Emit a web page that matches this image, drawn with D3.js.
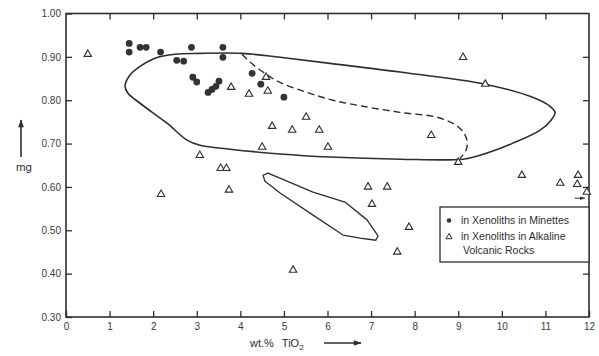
<!DOCTYPE html>
<html>
<head>
<meta charset="utf-8">
<script src="https://cdn.jsdelivr.net/npm/d3@7"></script>
<style>
  body { margin: 0; background: #fff; }
  svg { display: block; font-family: "Liberation Sans", Arial, sans-serif; }
  .tick-label { font-size: 10px; fill: #3a3a3a; }
</style>
</head>
<body>
<div id="chart"></div>
<script>
// 坐标刻度
const xTicks = [0, 1, 2, 3, 4, 5, 6, 7, 8, 9, 10, 11, 12];
const yTicks = [0.30, 0.40, 0.50, 0.60, 0.70, 0.80, 0.90, 1.00];

// in Xenoliths in Minettes (实心圆)
const minetteTi = [1.45, 1.45, 1.70, 1.84, 2.17, 2.54, 2.70, 2.88, 3.60, 3.60, 2.91, 3.00, 3.26, 3.35, 3.44, 3.51, 4.27, 4.47, 5.00];
const minetteMg = [0.931, 0.911, 0.922, 0.922, 0.911, 0.892, 0.890, 0.922, 0.922, 0.899, 0.853, 0.842, 0.818, 0.825, 0.832, 0.844, 0.862, 0.837, 0.807];

// in Xenoliths in Alkaline Volcanic Rocks (空心三角)
const alkalineTi = [0.50, 3.79, 4.20, 4.59, 4.63, 5.51, 4.73, 5.19, 5.81, 4.50, 6.01, 3.07, 3.55, 3.68, 2.18, 3.74,
  6.93, 7.37, 7.02, 7.87, 7.60, 5.21, 9.11, 9.62, 8.38, 9.00, 10.46, 11.34, 11.75, 11.73, 11.95];
const alkalineMg = [0.906, 0.830, 0.814, 0.853, 0.821, 0.761, 0.740, 0.731, 0.731, 0.692, 0.692, 0.673, 0.643, 0.643, 0.583, 0.593,
  0.600, 0.600, 0.560, 0.507, 0.450, 0.408, 0.899, 0.837, 0.719, 0.657, 0.627, 0.609, 0.627, 0.606, 0.588];

// 大包络线 (实线)
const bigLoopTi = [1.354, 1.469, 1.698, 2.042, 2.501, 3.075, 4.039, 4.911, 6.058, 7.664, 9.615, 10.647, 11.106, 11.221,
  11.13, 10.88, 10.257, 9.50, 9.11, 7.664, 6.058, 4.911, 3.763, 3.075, 2.777, 2.318, 1.698, 1.423];
const bigLoopMg = [0.832, 0.858, 0.878, 0.897, 0.906, 0.908, 0.908, 0.899, 0.885, 0.865, 0.837, 0.809, 0.786, 0.772,
  0.754, 0.731, 0.701, 0.673, 0.664, 0.664, 0.669, 0.676, 0.687, 0.696, 0.708, 0.747, 0.793, 0.816];

// 内部虚线
const dashTi = [4.039, 4.222, 4.52, 4.911, 5.53, 6.127, 6.815, 7.664, 8.582, 9.041, 9.20, 9.18, 9.04];
const dashMg = [0.906, 0.888, 0.865, 0.841, 0.818, 0.800, 0.786, 0.772, 0.759, 0.735, 0.708, 0.685, 0.666];

// 小包络线
const smallLoopTi = [4.52, 4.635, 5.668, 6.40, 6.907, 7.159, 7.11, 6.746, 6.356, 5.668, 4.911, 4.566];
const smallLoopMg = [0.627, 0.632, 0.588, 0.565, 0.524, 0.487, 0.477, 0.482, 0.489, 0.535, 0.586, 0.613];

const width = 599, height = 356;
const margin = { top: 13.5, right: 10, bottom: 39, left: 66 };
const ink = "#2e2e2e";

const svg = d3.select("#chart").append("svg")
  .attr("width", width)
  .attr("height", height);

const x = d3.scaleLinear().domain([0, 12]).range([margin.left, width - margin.right]);
const y = d3.scaleLinear().domain([0.30, 1.00]).range([height - margin.bottom, margin.top]);

const tickLen = 6;

// 底部坐标轴
svg.append("g")
  .attr("transform", `translate(0,${y(0.30)})`)
  .call(d3.axisBottom(x).tickValues(xTicks).tickSize(-tickLen).tickPadding(4).tickFormat(d3.format("d")))
  .call(g => g.select(".domain").remove())
  .call(g => g.selectAll("line").attr("stroke", ink).attr("stroke-width", 1.3))
  .call(g => g.selectAll("text").attr("class", "tick-label").attr("dy", "0.9em").attr("font-size", 10.5));

// 顶部刻度
svg.append("g")
  .attr("transform", `translate(0,${y(1.00)})`)
  .call(d3.axisTop(x).tickValues(xTicks.slice(1, -1)).tickSize(-tickLen).tickFormat(""))
  .call(g => g.select(".domain").remove())
  .call(g => g.selectAll("line").attr("stroke", ink).attr("stroke-width", 1.3));

// 左侧坐标轴
svg.append("g")
  .attr("transform", `translate(${x(0)},0)`)
  .call(d3.axisLeft(y).tickValues(yTicks).tickSize(-tickLen).tickPadding(5).tickFormat(d3.format(".2f")))
  .call(g => g.select(".domain").remove())
  .call(g => g.selectAll("line").attr("stroke", ink).attr("stroke-width", 1.3))
  .call(g => g.selectAll("text").attr("class", "tick-label").attr("font-size", 10.5));

// 右侧刻度
svg.append("g")
  .attr("transform", `translate(${x(12)},0)`)
  .call(d3.axisRight(y).tickValues(yTicks.slice(1, -1)).tickSize(-tickLen).tickFormat(""))
  .call(g => g.select(".domain").remove())
  .call(g => g.selectAll("line").attr("stroke", ink).attr("stroke-width", 1.3));

// 边框
svg.append("rect")
  .attr("x", x(0)).attr("y", y(1.00))
  .attr("width", x(12) - x(0)).attr("height", y(0.30) - y(1.00))
  .attr("fill", "none").attr("stroke", ink).attr("stroke-width", 1.6);

// 包络线
const toPts = (xs, ys) => xs.map((v, i) => [v, ys[i]]);
const closedLine = d3.line().x(d => x(d[0])).y(d => y(d[1])).curve(d3.curveCatmullRomClosed.alpha(0.5));
const openLine = d3.line().x(d => x(d[0])).y(d => y(d[1])).curve(d3.curveCatmullRom.alpha(0.5));
const linearClosed = d3.line().x(d => x(d[0])).y(d => y(d[1])).curve(d3.curveLinearClosed);

svg.append("path")
  .attr("d", closedLine(toPts(bigLoopTi, bigLoopMg)))
  .attr("fill", "none").attr("stroke", ink).attr("stroke-width", 1.6);

svg.append("path")
  .attr("d", openLine(toPts(dashTi, dashMg)))
  .attr("fill", "none").attr("stroke", ink).attr("stroke-width", 1.4)
  .attr("stroke-dasharray", "7,4");

svg.append("path")
  .attr("d", linearClosed(toPts(smallLoopTi, smallLoopMg)))
  .attr("fill", "none").attr("stroke", ink).attr("stroke-width", 1.3)
  .attr("stroke-linejoin", "round");

// 数据点
const tri = d3.symbol().type(d3.symbolTriangle).size(24);

svg.append("g").selectAll("path")
  .data(toPts(alkalineTi, alkalineMg))
  .join("path")
  .attr("transform", d => `translate(${x(d[0])},${y(d[1])})`)
  .attr("d", tri)
  .attr("fill", "#fff").attr("stroke", ink).attr("stroke-width", 1.1);

svg.append("g").selectAll("circle")
  .data(toPts(minetteTi, minetteMg))
  .join("circle")
  .attr("cx", d => x(d[0])).attr("cy", d => y(d[1]))
  .attr("r", 3.4)
  .attr("fill", "#333");

// 箭头标记
const defs = svg.append("defs");
defs.append("marker")
  .attr("id", "arrow")
  .attr("viewBox", "0 0 10 10")
  .attr("refX", 9).attr("refY", 5)
  .attr("markerWidth", 7).attr("markerHeight", 5)
  .attr("orient", "auto")
  .append("path").attr("d", "M0,1.5L10,5L0,8.5Z").attr("fill", ink);

// 右侧小箭头 (超出范围的点)
svg.append("line")
  .attr("x1", x(11.67)).attr("x2", x(11.9))
  .attr("y1", y(0.574)).attr("y2", y(0.574))
  .attr("stroke", ink).attr("stroke-width", 1)
  .attr("marker-end", "url(#arrow)");

// y 轴标题
svg.append("line")
  .attr("x1", 21).attr("x2", 21).attr("y1", 157).attr("y2", 120)
  .attr("stroke", ink).attr("stroke-width", 1.6)
  .attr("marker-end", "url(#arrow)");
svg.append("text")
  .attr("x", 24).attr("y", 171)
  .attr("text-anchor", "middle")
  .attr("font-size", 11.5).attr("fill", ink)
  .text("mg");

// x 轴标题
const xt = svg.append("text")
  .attr("x", 250).attr("y", 347)
  .attr("font-size", 11).attr("fill", ink);
xt.append("tspan").text("wt.%");
xt.append("tspan").attr("dx", 8).text("TiO");
xt.append("tspan").attr("font-size", 8).attr("dy", 3).text("2");
svg.append("line")
  .attr("x1", 324).attr("x2", 361).attr("y1", 343).attr("y2", 343)
  .attr("stroke", ink).attr("stroke-width", 1.6)
  .attr("marker-end", "url(#arrow)");

// 图例
const legend = svg.append("g");
legend.append("rect")
  .attr("x", 440).attr("y", 207)
  .attr("width", x(12) - 440).attr("height", 55)
  .attr("fill", "#fff").attr("stroke", ink).attr("stroke-width", 1.3);
legend.append("circle")
  .attr("cx", 449).attr("cy", 220.5).attr("r", 2.3).attr("fill", "#333");
legend.append("path")
  .attr("transform", "translate(449,237)")
  .attr("d", d3.symbol().type(d3.symbolTriangle).size(16))
  .attr("fill", "#fff").attr("stroke", ink).attr("stroke-width", 1);
const legendLines = [
  { text: "in Xenoliths in Minettes", y: 224 },
  { text: "in Xenoliths in Alkaline", y: 240 },
  { text: "Volcanic Rocks", y: 254 }
];
legend.selectAll("text.lg")
  .data(legendLines)
  .join("text")
  .attr("class", "lg")
  .attr("x", (d, i) => i === 2 ? 463 : 461)
  .attr("y", d => d.y)
  .attr("font-size", 10.5).attr("fill", ink)
  .text(d => d.text);
</script>
</body>
</html>
